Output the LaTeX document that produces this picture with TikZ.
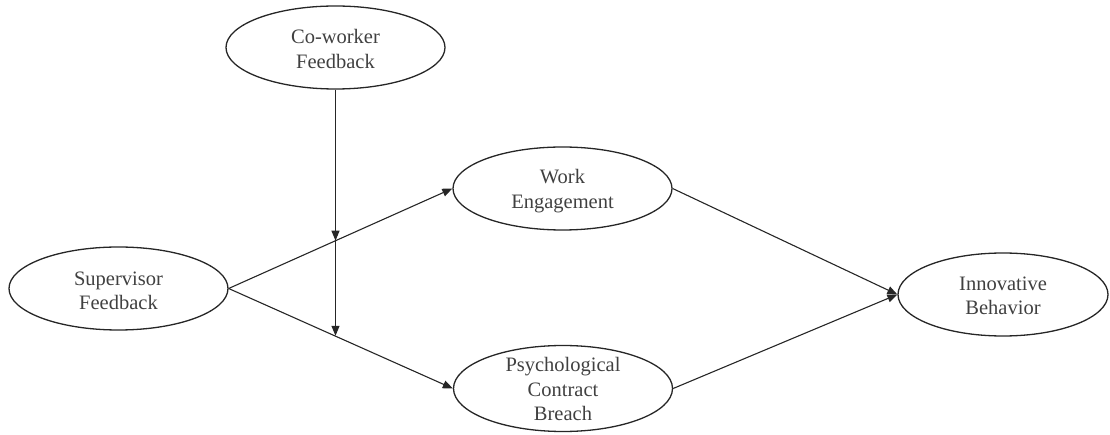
\documentclass[tikz,border=0pt]{standalone}
\usepackage{fontspec}
\setmainfont{Liberation Serif}
\usetikzlibrary{arrows.meta,shapes.geometric}
\tikzset{
  ell/.style={draw=black!85, line width=1.3pt, ellipse, minimum width=219pt, minimum height=83pt, inner sep=0pt},
  txt/.style={align=center, text=black!75, font=\fontsize{20.5}{24.5}\selectfont, inner sep=0pt},
  link/.style={draw=black!85, line width=1.1pt, -{Triangle[length=10pt,width=8pt]}},
}
\begin{document}
\begin{tikzpicture}[x=1pt,y=-1pt]
\useasboundingbox (0,0) rectangle (1110,435);
\node[ell] (cw) at (335.5,47.5) {};
\node[txt] (cwt) at (335.5,49) {Co-worker\\Feedback};
\node[ell] (sf) at (118.5,288.5) {};
\node[txt] (sft) at (118.5,291) {Supervisor\\Feedback};
\node[ell] (we) at (562.5,188.5) {};
\node[txt] (wet) at (562.5,191) {Work\\Engagement};
\node[ell, minimum height=86pt] (pcb) at (563,388.5) {};
\node[txt] (pcbt) at (563,389) {Psychological\\Contract\\Breach};
\node[ell, minimum width=210pt] (ib) at (1003,294.5) {};
\node[txt] (ibt) at (1003,296) {Innovative\\Behavior};
\draw[link] (sf.east) -- (we.west) coordinate[pos=0.478] (m1);
\draw[link] (sf.east) -- (pcb.west) coordinate[pos=0.473] (m2);
\draw[link] (we.east) -- (ib.west);
\draw[link] (pcb.east) -- (ib.west);
\draw[link] (cw.south) -- (cw.south |- m1);
\draw[link] (cw.south |- m1) -- (cw.south |- m2);
\end{tikzpicture}
\end{document}
